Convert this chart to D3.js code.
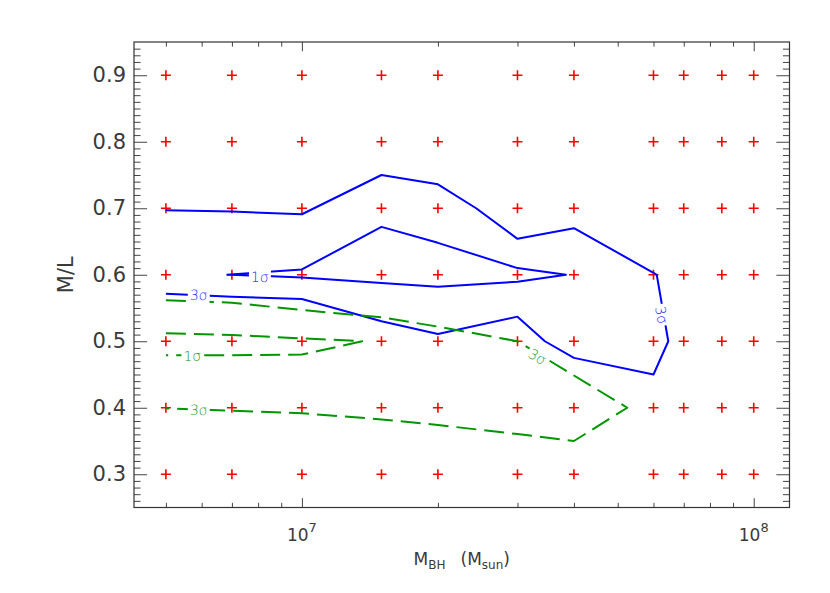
<!DOCTYPE html>
<html>
<head>
<meta charset="utf-8">
<script src="https://cdn.jsdelivr.net/npm/d3@7"></script>
<style>
body { margin: 0; background: #fff; }
svg { display: block; }
text { font-family: "DejaVu Sans", sans-serif; }
.clabel { font-weight: 200; }
</style>
</head>
<body>
<div id="chart"></div>
<script>
var width = 830
var height = 593
var margin = { left: 134, right: 40.5, top: 42, bottom: 85.5 }

// model grid (M_BH in M_sun, M/L)
var massGrid = [5e6, 7e6, 1e7, 1.5e7, 2e7, 3e7, 4e7, 6e7, 7e7, 8.5e7, 1e8]
var mlGrid = [0.3, 0.4, 0.5, 0.6, 0.7, 0.8, 0.9]

// axis ticks
var yMajor = [0.3, 0.4, 0.5, 0.6, 0.7, 0.8, 0.9]
var xMajor = [1e7, 1e8]
var xExponents = ["7", "8"]
var xMinor = [5e6, 6e6, 7e6, 8e6, 9e6, 2e7, 3e7, 4e7, 5e7, 6e7, 7e7, 8e7, 9e7]

// contour lines, [M_BH, M/L]
var blue3sigma = [[5e6, 0.697], [7e6, 0.695], [1e7, 0.691], [1.5e7, 0.750], [2e7, 0.736],
    [2.43e7, 0.700], [3e7, 0.654], [4e7, 0.670], [6e7, 0.603], [6.1e7, 0.600], [6.47e7, 0.500],
    [6e7, 0.450], [4e7, 0.475], [3.45e7, 0.500], [3e7, 0.537], [2e7, 0.511], [1.5e7, 0.530],
    [1e7, 0.5635], [7e6, 0.567], [5e6, 0.5715]]
var blue1sigma = [[6.81e6, 0.600], [1e7, 0.608], [1.5e7, 0.672], [2e7, 0.648], [3e7, 0.610],
    [3.84e7, 0.600], [3e7, 0.5895], [2e7, 0.582], [1.5e7, 0.5875], [1e7, 0.596], [7e6, 0.600],
    [6.81e6, 0.600]]
var green3sigma = [[5e6, 0.5616], [7e6, 0.558], [1e7, 0.547], [1.5e7, 0.536], [2e7, 0.522],
    [3e7, 0.500], [4e7, 0.4485], [5.25e7, 0.400], [4e7, 0.350], [3e7, 0.3605], [2e7, 0.374],
    [1.5e7, 0.3825], [1e7, 0.3917], [7e6, 0.3956], [5e6, 0.399]]
var green1sigma = [[5e6, 0.512], [7e6, 0.5094], [1e7, 0.5044], [1.36e7, 0.500], [1e7, 0.480],
    [7e6, 0.479], [5e6, 0.479]]

// contour labels: text, M_BH, M/L, rotation, which set
var contourLabels = [
    { text: "3σ", m: 5.91e6, ml: 0.5695, angle: 2, set: "blue" },
    { text: "1σ", m: 8.07e6, ml: 0.5966, angle: 1, set: "blue" },
    { text: "3σ", m: 6.25e7, ml: 0.5395, angle: 79, set: "blue" },
    { text: "1σ", m: 5.72e6, ml: 0.4778, angle: 0, set: "green" },
    { text: "3σ", m: 5.91e6, ml: 0.3966, angle: 2, set: "green" },
    { text: "3σ", m: 3.32e7, ml: 0.4768, angle: 31, set: "green" }
]

var lineColor = { blue: "#0000ff", green: "#009600" }
var labelColor = { blue: "#2020ff", green: "#1a9a1a" }
var textColor = "#3a3a3a"

var svg = d3.select("#chart")
    .append("svg")
    .attr("width", width)
    .attr("height", height)

var xScale = d3.scaleLog().domain([4.25e6, 1.2e8]).range([margin.left, width - margin.right])
var yScale = d3.scaleLinear().domain([0.25, 0.95]).range([height - margin.bottom, margin.top])

var plotW = width - margin.left - margin.right
var plotH = height - margin.top - margin.bottom

var xTickLen = plotH * 0.02
var yTickLen = plotW * 0.02

// axes, ticks pointing inward
function styleAxis(g) {
    g.select(".domain").remove()
    g.selectAll(".tick line").attr("stroke", "#444")
}

svg.append("g")
    .attr("transform", `translate(0,${height - margin.bottom})`)
    .call(d3.axisBottom(xScale).tickValues(xMajor).tickSize(-xTickLen).tickFormat(""))
    .call(styleAxis)
svg.append("g")
    .attr("transform", `translate(0,${height - margin.bottom})`)
    .call(d3.axisBottom(xScale).tickValues(xMinor).tickSize(-xTickLen / 2).tickFormat(""))
    .call(styleAxis)
svg.append("g")
    .attr("transform", `translate(0,${margin.top})`)
    .call(d3.axisTop(xScale).tickValues(xMajor).tickSize(-xTickLen).tickFormat(""))
    .call(styleAxis)
svg.append("g")
    .attr("transform", `translate(0,${margin.top})`)
    .call(d3.axisTop(xScale).tickValues(xMinor).tickSize(-xTickLen / 2).tickFormat(""))
    .call(styleAxis)

var yMinor = d3.range(26, 95).map(function (d) { return d / 100 })
    .filter(function (d) { return Math.round(d * 100) % 10 !== 0 })

svg.append("g")
    .attr("transform", `translate(${margin.left},0)`)
    .call(d3.axisLeft(yScale).tickValues(yMajor).tickSize(-yTickLen).tickPadding(8)
        .tickFormat(d3.format(".1f")))
    .call(styleAxis)
    .call(function (g) {
        g.selectAll(".tick text")
            .attr("fill", textColor)
            .style("font-size", "21px")
            .style("font-family", "DejaVu Sans, sans-serif")
    })
svg.append("g")
    .attr("transform", `translate(${margin.left},0)`)
    .call(d3.axisLeft(yScale).tickValues(yMinor).tickSize(-yTickLen / 2).tickFormat(""))
    .call(styleAxis)
svg.append("g")
    .attr("transform", `translate(${width - margin.right},0)`)
    .call(d3.axisRight(yScale).tickValues(yMajor).tickSize(-yTickLen).tickFormat(""))
    .call(styleAxis)
svg.append("g")
    .attr("transform", `translate(${width - margin.right},0)`)
    .call(d3.axisRight(yScale).tickValues(yMinor).tickSize(-yTickLen / 2).tickFormat(""))
    .call(styleAxis)

// frame
svg.append("rect")
    .attr("x", margin.left)
    .attr("y", margin.top)
    .attr("width", plotW)
    .attr("height", plotH)
    .attr("fill", "none")
    .attr("stroke", "#333")
    .attr("stroke-width", 1.2)

// x tick labels 10^n
var xLabels = svg.selectAll(".xlabel")
    .data(xMajor)
    .enter()
    .append("text")
    .attr("class", "xlabel")
    .attr("x", function (d) { return xScale(d) })
    .attr("y", height - margin.bottom + 33.5)
    .attr("text-anchor", "middle")
    .attr("fill", textColor)
    .style("font-size", "17px")
xLabels.append("tspan").text("10")
xLabels.append("tspan")
    .attr("dy", -9)
    .style("font-size", "13px")
    .text(function (d, i) { return xExponents[i] })

// axis titles
var xTitle = svg.append("text")
    .attr("x", margin.left + plotW / 2)
    .attr("y", height - margin.bottom + 57)
    .attr("text-anchor", "middle")
    .attr("fill", textColor)
    .style("font-size", "17px")
xTitle.append("tspan").text("M")
xTitle.append("tspan").attr("dy", 4).style("font-size", "12px").text("BH")
xTitle.append("tspan").attr("dy", -4).attr("dx", 15).text("(M")
xTitle.append("tspan").attr("dy", 4).style("font-size", "12px").text("sun")
xTitle.append("tspan").attr("dy", -4).text(")")

svg.append("text")
    .attr("transform", `translate(73,${yScale(0.6)}) rotate(-90)`)
    .attr("text-anchor", "middle")
    .attr("fill", textColor)
    .style("font-size", "21px")
    .text("M/L")

// model grid points
var gridPoints = []
mlGrid.forEach(function (ml) {
    massGrid.forEach(function (m) { gridPoints.push({ m: m, ml: ml }) })
})
var plusSize = 5
svg.append("g")
    .selectAll("path")
    .data(gridPoints)
    .enter()
    .append("path")
    .attr("d", function (d) {
        var x = xScale(d.m), y = yScale(d.ml)
        return `M${x - plusSize},${y}H${x + plusSize}M${x},${y - plusSize}V${y + plusSize}`
    })
    .attr("stroke", "#ff0000")
    .attr("stroke-width", 1.6)
    .attr("fill", "none")

// contour lines get gaps under their labels through a mask
var mask = svg.append("defs").append("mask")
    .attr("id", "labelGaps")
    .attr("maskUnits", "userSpaceOnUse")
    .attr("x", 0).attr("y", 0).attr("width", width).attr("height", height)
mask.append("rect")
    .attr("width", width).attr("height", height).attr("fill", "#fff")

var line = d3.line()
    .x(function (d) { return xScale(d[0]) })
    .y(function (d) { return yScale(d[1]) })

var lines = svg.append("g").attr("mask", "url(#labelGaps)")
var contours = [
    { data: blue3sigma, set: "blue", dash: null },
    { data: blue1sigma, set: "blue", dash: null },
    { data: green3sigma, set: "green", dash: "20,8" },
    { data: green1sigma, set: "green", dash: "20,8" }
]
lines.selectAll("path")
    .data(contours)
    .enter()
    .append("path")
    .attr("d", function (d) { return line(d.data) })
    .attr("fill", "none")
    .attr("stroke", function (d) { return lineColor[d.set] })
    .attr("stroke-width", 2)
    .attr("stroke-linejoin", "round")
    .attr("stroke-dasharray", function (d) { return d.dash })

var labelG = svg.append("g")
contourLabels.forEach(function (d) {
    var tr = `translate(${xScale(d.m)},${yScale(d.ml)}) rotate(${d.angle})`
    var t = labelG.append("text")
        .attr("class", "clabel")
        .attr("transform", tr)
        .attr("text-anchor", "middle")
        .attr("dominant-baseline", "central")
        .attr("fill", labelColor[d.set])
        .style("font-size", "14px")
        .text(d.text)
    var bb = t.node().getBBox()
    mask.append("rect")
        .attr("transform", tr)
        .attr("x", bb.x - 2)
        .attr("y", bb.y)
        .attr("width", bb.width + 4)
        .attr("height", bb.height)
        .attr("fill", "#000")
})
</script>
</body>
</html>
